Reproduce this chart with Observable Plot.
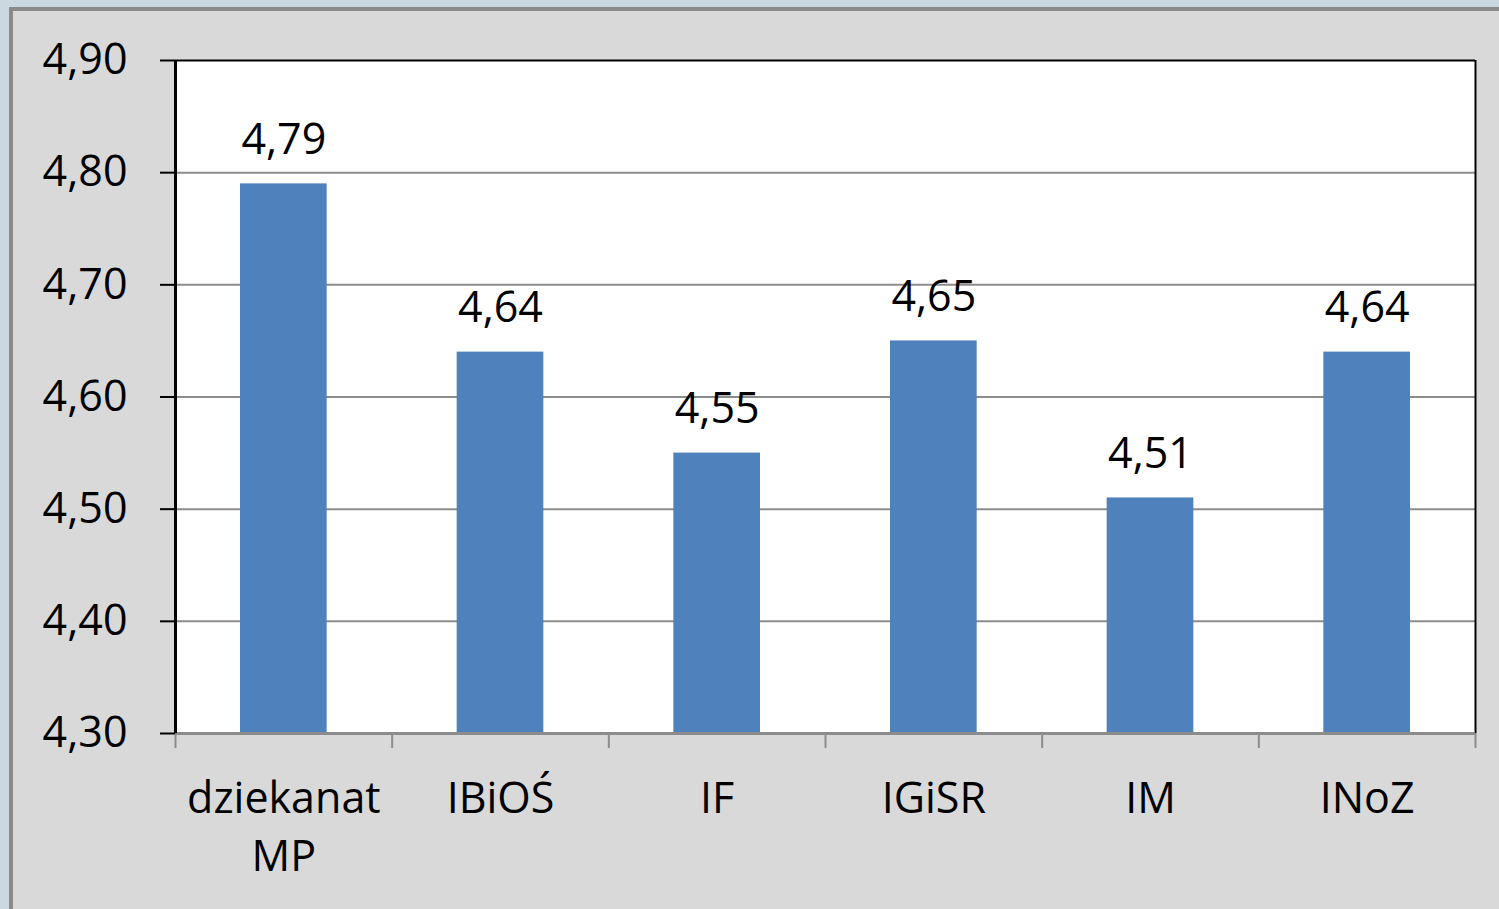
<!DOCTYPE html>
<html><head><meta charset="utf-8">
<script src="https://cdn.jsdelivr.net/npm/d3@7"></script>
<script src="https://cdn.jsdelivr.net/npm/@observablehq/plot@0.6"></script>
<style>
html,body{margin:0;padding:0;width:1499px;height:909px;overflow:hidden;background:#ccd8df;}
#panel{position:absolute;left:9px;top:7px;width:1500px;height:910px;background:#d9d9d9;border-left:4px solid #8a8a8a;border-top:4px solid #8a8a8a;}
#chart{position:absolute;left:0;top:0;}
</style></head><body><div id="panel"></div><div id="chart"></div>
<script>
const categories = ["dziekanat\nMP", "IBiOŚ", "IF", "IGiSR", "IM", "INoZ"];
const values = [4.79, 4.64, 4.55, 4.65, 4.51, 4.64];
const yTicks = [4.3, 4.4, 4.5, 4.6, 4.7, 4.8, 4.9];
const boundaries = [0, 1, 2, 3, 4, 5, 6];

const fmt = v => v.toFixed(2).replace(".", ",");
const data = categories.map((c, i) => ({cat: c, idx: i, value: values[i]}));
const yMin = yTicks[0], yMax = yTicks[yTicks.length - 1];
const FS = 43;

const chart = Plot.plot({
  width: 1499,
  height: 909,
  marginLeft: 175,
  marginRight: 24,
  marginTop: 60,
  marginBottom: 176,
  style: {background: "transparent", fontFamily: "'Open Sans', sans-serif", color: "black", overflow: "visible"},
  x: {type: "linear", domain: [0, categories.length], axis: null},
  y: {domain: [yMin, yMax], axis: null},
  marks: [
    Plot.frame({fill: "white"}),
    Plot.ruleY(yTicks.slice(1, -1), {stroke: "#8c8c8c", strokeWidth: 2}),
    Plot.rectY(data, {x1: d => d.idx + 0.3, x2: d => d.idx + 0.7, y1: yMin, y2: "value", fill: "#4f81bd"}),
    Plot.ruleY([yMax], {stroke: "black", strokeWidth: 2}),
    Plot.ruleX([categories.length], {stroke: "black", strokeWidth: 2}),
    Plot.ruleY([yMin], {stroke: "#8c8c8c", strokeWidth: 3}),
    Plot.ruleX([0], {stroke: "black", strokeWidth: 3}),
    Plot.axisX(boundaries, {anchor: "bottom", tickSize: 15, tickFormat: () => "", stroke: "#8c8c8c", strokeWidth: 2, label: null}),
    Plot.axisX(data.map(d => d.idx + 0.5), {anchor: "bottom", tickSize: 0, tickPadding: 38, tickFormat: v => categories[Math.floor(v)], fontSize: FS, lineHeight: 1.35, fill: "black", label: null}),
    Plot.axisY(yTicks, {anchor: "left", tickSize: 15, tickPadding: 33, tickFormat: fmt, fontSize: FS, stroke: "black", strokeWidth: 2, fill: "black", label: null}),
    Plot.text(data, {x: d => d.idx + 0.5, y: "value", text: d => fmt(d.value), dy: -30, lineAnchor: "bottom", fontSize: FS, fill: "black"})
  ]
});
document.getElementById("chart").appendChild(chart);
</script>
</body></html>
